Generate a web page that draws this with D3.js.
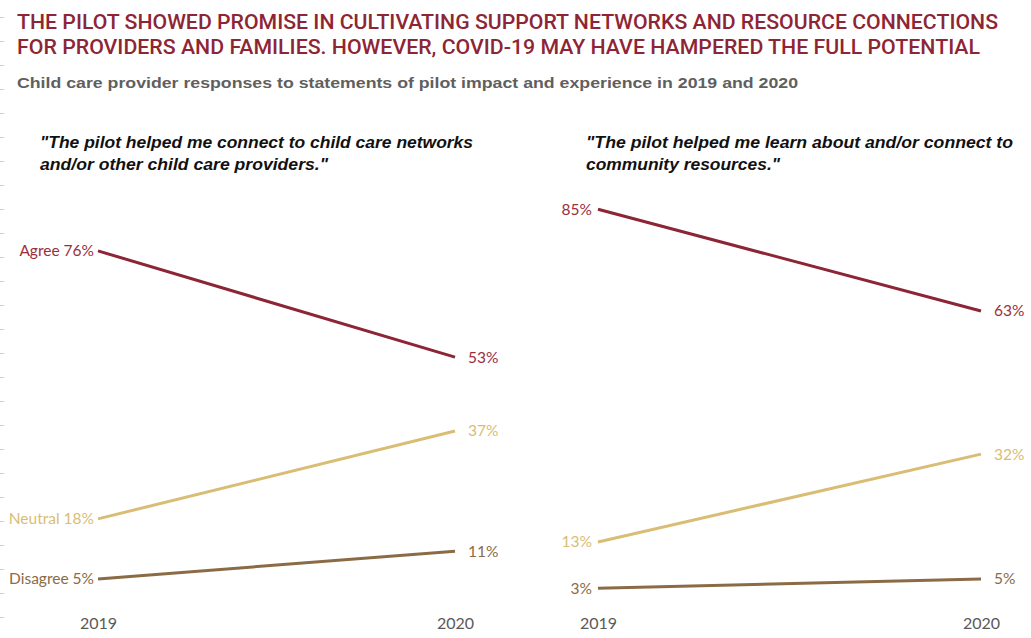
<!DOCTYPE html>
<html>
<head>
<meta charset="utf-8">
<script src="https://cdn.jsdelivr.net/npm/d3@7"></script>
<style>
  html, body { margin: 0; padding: 0; background: #ffffff; }
  svg { display: block; }
</style>
</head>
<body>
<svg id="chart" width="1031" height="638"></svg>
<script>
// ---------------- DATA ----------------
const years = ["2019", "2020"];
const seriesNames = ["Agree", "Neutral", "Disagree"];
const panelTitles = [
  ["\"The pilot helped me connect to child care networks", "and/or other child care providers.\""],
  ["\"The pilot helped me learn about and/or connect to", "community resources.\""]
];
// values per series: [2019, 2020]
const networksAgree = [76, 53];
const networksNeutral = [18, 37];
const networksDisagree = [5, 11];
const resourcesAgree = [85, 63];
const resourcesNeutral = [13, 32];
const resourcesDisagree = [3, 5];
const titleLines = [
  "THE PILOT SHOWED PROMISE IN CULTIVATING SUPPORT NETWORKS AND RESOURCE CONNECTIONS",
  "FOR PROVIDERS AND FAMILIES. HOWEVER, COVID-19 MAY HAVE HAMPERED THE FULL POTENTIAL"
];
const subtitle = "Child care provider responses to statements of pilot impact and experience in 2019 and 2020";
const edgeTicks = d3.range(0, 26);

// ---------------- STYLE ----------------
const colors = { Agree: "#8c2535", Neutral: "#d9bd74", Disagree: "#8b6b45" };
const labelColors = { Agree: "#9a2e3e", Neutral: "#d9bd74", Disagree: "#8b6b45" };
const labelFont = "Lato, 'Open Sans', sans-serif";

const svg = d3.select("#chart");

// faint edge ruler ticks
const edgeScale = d3.scaleLinear().domain([0, 25]).range([17, 617]);
const edgeAxis = svg.append("g").attr("transform", "translate(0,0)")
  .call(d3.axisRight(edgeScale).tickValues(edgeTicks).tickSize(4).tickFormat(""));
edgeAxis.select(".domain").remove();
edgeAxis.selectAll("line").attr("stroke", "#d0d0d0");

// title
const titleWidths = [981, 963];
titleLines.forEach((t, i) => {
  svg.append("text")
    .attr("x", 17).attr("y", 29 + i * 25)
    .attr("font-family", "Roboto, sans-serif")
    .attr("font-weight", 500)
    .attr("font-size", 20)
    .attr("fill", "#8e2535")
    .attr("textLength", titleWidths[i])
    .attr("lengthAdjust", "spacingAndGlyphs")
    .text(t);
});
svg.append("text")
  .attr("x", 17).attr("y", 88)
  .attr("font-family", "'Liberation Sans', Arial, sans-serif")
  .attr("font-weight", "bold")
  .attr("font-size", 15)
  .attr("fill", "#5f5f5f")
  .attr("textLength", 781)
  .attr("lengthAdjust", "spacingAndGlyphs")
  .text(subtitle);

// shared y scale
const y = d3.scaleLinear().domain([0, 100]).range([602, 140]);

const panels = [
  { x0: 98, x1: 455, titleX: 40, title: panelTitles[0], titleLens: [433, 288],
    data: { Agree: networksAgree, Neutral: networksNeutral, Disagree: networksDisagree },
    leftNames: true, leftGap: 4 },
  { x0: 598, x1: 981, titleX: 586, title: panelTitles[1], titleLens: [427, 194],
    data: { Agree: resourcesAgree, Neutral: resourcesNeutral, Disagree: resourcesDisagree },
    leftNames: false, leftGap: 6 }
];

panels.forEach(p => {
  const g = svg.append("g");
  const x = d3.scalePoint().domain(years).range([p.x0, p.x1]);

  p.title.forEach((line, i) => {
    g.append("text")
      .attr("x", p.titleX).attr("y", 148 + i * 22)
      .attr("font-family", "'Liberation Sans', Arial, sans-serif")
      .attr("font-weight", "bold")
      .attr("font-style", "italic")
      .attr("font-size", 16)
      .attr("fill", "#111111")
      .attr("textLength", p.titleLens[i])
      .attr("lengthAdjust", "spacingAndGlyphs")
      .text(line);
  });

  const line = d3.line().x((d, i) => x(years[i])).y(d => y(d));

  seriesNames.forEach(name => {
    const vals = p.data[name];
    g.append("path")
      .datum(vals)
      .attr("d", line)
      .attr("fill", "none")
      .attr("stroke", colors[name])
      .attr("stroke-width", 3);

    g.append("text")
      .attr("x", x(years[0]) - p.leftGap)
      .attr("y", y(vals[0]))
      .attr("dy", "0.35em")
      .attr("text-anchor", "end")
      .attr("font-family", labelFont)
      .attr("font-size", 15.5)
      .attr("fill", labelColors[name])
      .text((p.leftNames ? name + " " : "") + vals[0] + "%");

    g.append("text")
      .attr("x", x(years[1]) + 13)
      .attr("y", y(vals[1]))
      .attr("dy", "0.35em")
      .attr("text-anchor", "start")
      .attr("font-family", labelFont)
      .attr("font-size", 15.5)
      .attr("fill", labelColors[name])
      .text(vals[1] + "%");
  });

  const xAxis = g.append("g")
    .attr("transform", "translate(0,612)")
    .call(d3.axisBottom(x).tickSize(0).tickPadding(6));
  xAxis.select(".domain").remove();
  xAxis.selectAll("text")
    .attr("font-family", labelFont)
    .attr("font-size", 16)
    .attr("fill", "#595959");
});
</script>
</body>
</html>
